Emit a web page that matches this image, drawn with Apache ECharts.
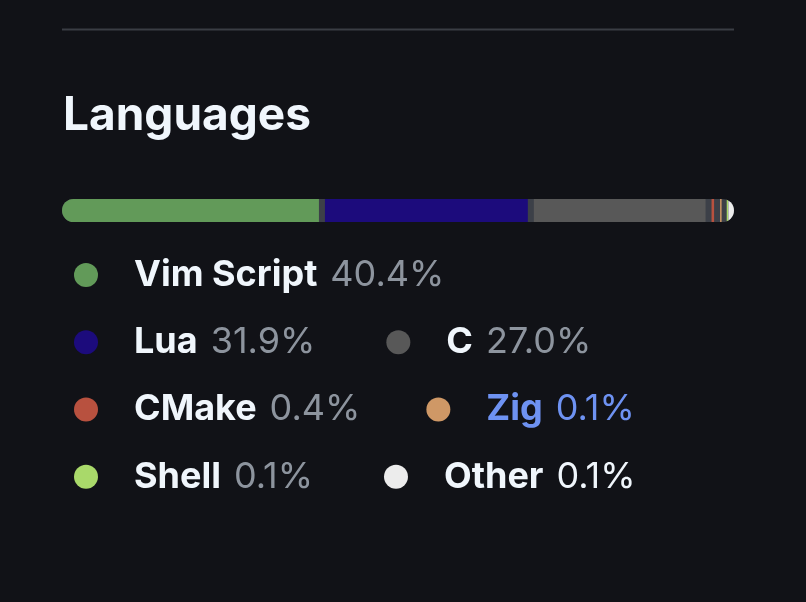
<!DOCTYPE html>
<html>
<head>
<meta charset="utf-8">
<script src="https://cdn.jsdelivr.net/npm/echarts@6/dist/echarts.min.js"></script>
<style>
html,body{margin:0;padding:0;background:#111217;}
#chart{width:806px;height:602px;}
</style>
</head>
<body>
<div id="chart"></div>
<script>
// ---- data ----
const categories = ['Vim Script', 'Lua', 'C', 'CMake', 'Zig', 'Shell', 'Other'];
const percents = [40.4, 31.9, 27.0, 0.4, 0.1, 0.1, 0.1];
const colors = ['#629a59', '#1c0b7c', '#585858', '#b8513f', '#cf9866', '#a9d96a', '#ececec'];
const legendRows = [['Vim Script'], ['Lua', 'C'], ['CMake', 'Zig'], ['Shell', 'Other']];
const titleText = 'Languages';

// ---- layout constants ----
const GAP = 6;          // separator between segments
const LAST_GAP = 1;
const MIN_W = 1.5;
const TRACK = '#3c4048';
const rowCenters = [274, 341.3, 408.5, 475.7];
const rowGaps = [71, 71, 66, 71];

const cumStart = [];
let acc = 0;
percents.forEach(p => { cumStart.push(acc); acc += p; });
const total = acc;

function gapsBefore(i) {
  let g = 0;
  for (let j = 1; j <= i; j++) g += (j === categories.length - 1) ? LAST_GAP : GAP;
  return g;
}

function segRender(i) {
  return function (params, api) {
    const p0 = api.coord([0, 0]);
    const p1 = api.coord([total, 0]);
    const x0 = p0[0], x1 = p1[0], W = x1 - x0;
    const h = api.size([0, 1])[1];
    const top = p0[1] - h / 2;
    const k = (W - GAP * (categories.length - 1)) / W;
    const a = api.coord([api.value(0), 0])[0];
    const b = api.coord([api.value(1), 0])[0];
    const sx = x0 + (a - x0) * k + gapsBefore(i);
    let w = Math.max((b - a) * k, MIN_W);
    if (i === categories.length - 1) w = x1 - sx;
    return {
      type: 'rect',
      shape: { x: sx, y: top, width: w, height: h },
      style: { fill: api.visual('color') },
      clipPath: { type: 'rect', shape: { x: x0, y: top, width: W, height: h, r: h / 2 } }
    };
  };
}

const series = [{
  type: 'custom',
  name: '__track',
  silent: true,
  z: 1,
  data: [[0, total, 0]],
  encode: { x: [0, 1], y: 2 },
  renderItem: function (params, api) {
    const p0 = api.coord([0, 0]);
    const p1 = api.coord([total, 0]);
    const h = api.size([0, 1])[1];
    return {
      type: 'rect',
      shape: { x: p0[0], y: p0[1] - h / 2, width: p1[0] - p0[0], height: h, r: h / 2 },
      style: { fill: TRACK }
    };
  }
}];

categories.forEach((name, i) => {
  series.push({
    type: 'custom',
    name: name,
    z: 2,
    color: colors[i],
    data: [[cumStart[i], cumStart[i] + percents[i], 0]],
    encode: { x: [0, 1], y: 2 },
    renderItem: segRender(i)
  });
});

const rich = {
  n: { fontFamily: 'Inter', fontWeight: 700, fontSize: 36, color: '#f0f6fc', padding: [0, 0, 0, 31], lineHeight: 24 },
  v: { fontFamily: 'Inter', fontWeight: 400, fontSize: 36, color: '#8d949e', padding: [0, 0, 0, 3], lineHeight: 24 },
  ov: { fontFamily: 'Inter', fontWeight: 400, fontSize: 36, color: '#f0f6fc', padding: [0, 0, 0, 3], lineHeight: 24 },
  zn: { fontFamily: 'Inter', fontWeight: 700, fontSize: 36, color: '#6e92f2', padding: [0, 0, 0, 31], lineHeight: 24 },
  zv: { fontFamily: 'Inter', fontWeight: 400, fontSize: 36, color: '#6e92f2', padding: [0, 0, 0, 3], lineHeight: 24 }
};

function fmt(name) {
  const i = categories.indexOf(name);
  const pct = percents[i].toFixed(1) + '%';
  if (name === 'Zig') return '{zn|' + name + '} {zv|' + pct + '}';
  if (name === 'Other') return '{n|' + name + '} {ov|' + pct + '}';
  return '{n|' + name + '} {v|' + pct + '}';
}

const legends = legendRows.map((row, r) => ({
  show: true,
  orient: 'horizontal',
  left: 69,
  top: rowCenters[r] - 22,
  itemWidth: 24,
  itemHeight: 24,
  itemGap: rowGaps[r],
  icon: 'circle',
  selectedMode: false,
  data: row,
  formatter: fmt,
  textStyle: { rich: rich, fontSize: 36, lineHeight: 24 }
}));

const chart = echarts.init(document.getElementById('chart'), null, { renderer: 'canvas' });
chart.setOption({
  backgroundColor: '#111217',
  animation: false,
  title: {
    text: titleText,
    left: 58,
    top: 88,
    textStyle: { fontFamily: 'Inter', fontWeight: 700, fontSize: 46, color: '#f0f6fc' }
  },
  graphic: [{
    type: 'rect',
    shape: { x: 62, y: 28.5, width: 672, height: 2 },
    style: { fill: '#3a3d44' },
    silent: true
  }],
  grid: { left: 62, right: 72, top: 199, height: 23 },
  xAxis: { type: 'value', min: 0, max: total, show: false },
  yAxis: { type: 'category', data: ['Languages'], show: false },
  legend: legends,
  series: series
});
</script>
</body>
</html>
